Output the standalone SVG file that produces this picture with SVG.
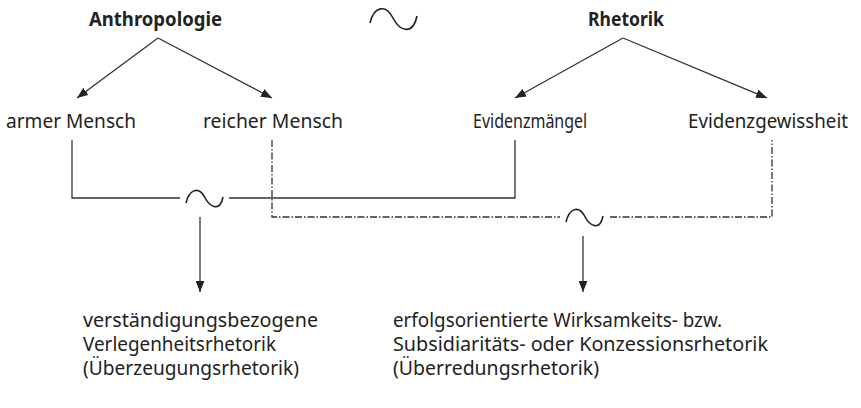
<svg xmlns="http://www.w3.org/2000/svg" width="861" height="408" viewBox="0 0 861 408">
<style>
text{font-family:"Noto Sans","Open Sans","DejaVu Sans",sans-serif;fill:#222;font-size:20px}
.b{font-weight:bold;font-size:19px}
.s{font-size:19px}
.ln{fill:none;stroke:#333;stroke-width:1.3}
.dd{fill:none;stroke:#333;stroke-width:1.3;stroke-dasharray:7 2 1.5 2}
.tl{fill:none;stroke:#222;stroke-width:1.6}
</style>
<defs>
<marker id="ah" viewBox="0 0 10 8" refX="10" refY="4" markerWidth="11" markerHeight="9" markerUnits="userSpaceOnUse" orient="auto">
<path d="M0,0 L10,4 L0,8 Z" fill="#222"/>
</marker>
</defs>
<g id="anthropologie"><text class="b" x="89" y="26" textLength="133" lengthAdjust="spacingAndGlyphs">Anthropologie</text></g>
<g id="tilde-top"><path class="tl" stroke-width="2" d="M370,23 C374,6 386,4 393,18 C400,32 413,35 417,16"/></g>
<g id="rhetorik"><text class="b" x="588" y="26" textLength="76" lengthAdjust="spacingAndGlyphs">Rhetorik</text></g>
<g id="armer"><text x="6" y="128" textLength="130" lengthAdjust="spacingAndGlyphs">armer Mensch</text></g>
<g id="reicher"><text x="203" y="128" textLength="140" lengthAdjust="spacingAndGlyphs">reicher Mensch</text></g>
<g id="evidenzmaengel"><text transform="translate(473,128) scale(0.8,1)" x="0" y="0">Evidenzmängel</text></g>
<g id="evidenzgewissheit"><text x="688" y="128" textLength="160" lengthAdjust="spacingAndGlyphs">Evidenzgewissheit</text></g>
<g id="tilde-left"><path class="tl" d="M186,203 C189,190 198,186 204,196 C210,208 220,212 223,197"/></g>
<g id="tilde-right"><path class="tl" d="M566,222 C569,209 578,205 584,215 C590,227 600,231 603,216"/></g>
<g id="verstaendigung" class="s">
<text class="s" x="83" y="327" textLength="235" lengthAdjust="spacingAndGlyphs">verständigungsbezogene</text>
<text class="s" x="83" y="351" textLength="193" lengthAdjust="spacingAndGlyphs">Verlegenheitsrhetorik</text>
<text class="s" x="83" y="375" textLength="216" lengthAdjust="spacingAndGlyphs">(Überzeugungsrhetorik)</text>
</g>
<g id="erfolg">
<text class="s" x="393" y="327" textLength="329" lengthAdjust="spacingAndGlyphs">erfolgsorientierte Wirksamkeits- bzw.</text>
<text class="s" x="393" y="351" textLength="375" lengthAdjust="spacingAndGlyphs">Subsidiaritäts- oder Konzessionsrhetorik</text>
<text class="s" x="393" y="375" textLength="206" lengthAdjust="spacingAndGlyphs">(Überredungsrhetorik)</text>
</g>
<g id="connectors">
<line class="ln" x1="158" y1="38" x2="77" y2="98" marker-end="url(#ah)"/>
<line class="ln" x1="158" y1="38" x2="272" y2="98" marker-end="url(#ah)"/>
<line class="ln" x1="623" y1="38" x2="515" y2="98" marker-end="url(#ah)"/>
<line class="ln" x1="623" y1="38" x2="767" y2="98" marker-end="url(#ah)"/>
<path class="ln" d="M72,140 V198 H180"/>
<path class="ln" d="M229,198 H515 V140"/>
<path class="dd" d="M272,140 V217 H560"/>
<path class="dd" d="M610,217 H772 V140"/>
<line class="ln" x1="200" y1="217" x2="200" y2="292" marker-end="url(#ah)"/>
<line class="ln" x1="583" y1="236" x2="583" y2="292" marker-end="url(#ah)"/>
</g>
</svg>
